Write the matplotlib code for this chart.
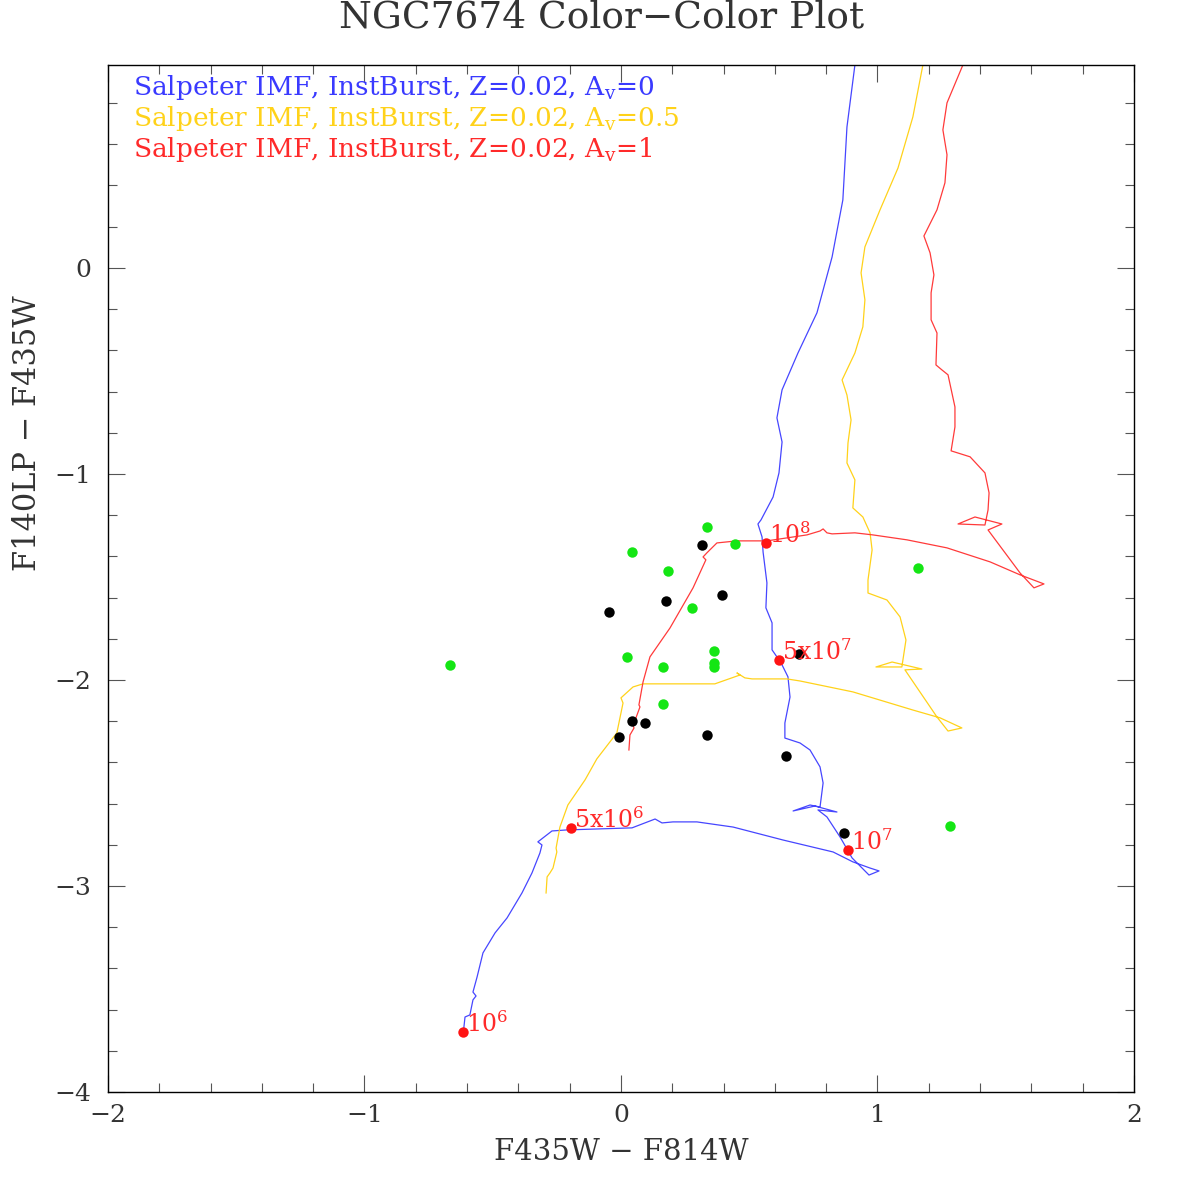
"NGC7674 colour-colour plot with Starburst99-like age tracks"

import numpy as np
import matplotlib
matplotlib.use("Agg")
import matplotlib.pyplot as plt
from matplotlib.ticker import MultipleLocator

plt.rcParams['font.family'] = ['DejaVu Serif', 'DejaVu Sans']
plt.rcParams['mathtext.fontset'] = 'dejavuserif'

# tracks: x = F435W - F814W, y = F140LP - F435W
blue_x = [-0.616, -0.608, -0.589, -0.577, -0.565, -0.577, -0.561, -0.538, -0.491, -0.444,
          -0.386, -0.347, -0.316, -0.308, -0.324, -0.269, -0.211, 0.043, 0.133, 0.160,
          0.203, 0.296, 0.437, 0.632, 0.827, 0.904, 0.971, 1.006, 0.967, 0.901,
          0.854, 0.803, 0.768, 0.842, 0.756, 0.671, 0.737, 0.776, 0.788, 0.776,
          0.737, 0.698, 0.639, 0.639, 0.659, 0.651, 0.624, 0.589, 0.589, 0.565,
          0.569, 0.554, 0.550, 0.534, 0.546, 0.593, 0.616, 0.628, 0.608, 0.628,
          0.690, 0.764, 0.823, 0.865, 0.881, 0.912]
blue_y = [-3.728, -3.636, -3.626, -3.553, -3.534, -3.515, -3.442, -3.325, -3.228, -3.155,
          -3.034, -2.937, -2.840, -2.801, -2.786, -2.733, -2.728, -2.718, -2.675, -2.694,
          -2.689, -2.689, -2.714, -2.777, -2.835, -2.883, -2.913, -2.927, -2.947, -2.864,
          -2.762, -2.665, -2.631, -2.641, -2.612, -2.636, -2.607, -2.617, -2.500, -2.422,
          -2.340, -2.306, -2.282, -2.209, -2.083, -1.985, -1.917, -1.854, -1.723, -1.650,
          -1.529, -1.379, -1.306, -1.243, -1.223, -1.112, -0.995, -0.845, -0.728, -0.592,
          -0.413, -0.218, 0.053, 0.330, 0.684, 0.985]

yellow_x = [-0.292, -0.288, -0.277, -0.265, -0.250, -0.253, -0.238, -0.207, -0.140, -0.094,
            -0.016, 0.008, 0.000, 0.047, 0.086, 0.366, 0.464, 0.452, 0.483, 0.511,
            0.647, 0.698, 0.904, 1.138, 1.244, 1.329, 1.275, 1.232, 1.107, 1.173,
            1.057, 0.994, 1.095, 1.111, 1.088, 1.037, 0.963, 0.963, 0.979, 0.971,
            0.943, 0.904, 0.912, 0.881, 0.885, 0.897, 0.881, 0.862, 0.912, 0.943,
            0.951, 0.936, 0.951, 1.010, 1.080, 1.138, 1.177]
yellow_y = [-3.034, -2.956, -2.937, -2.913, -2.835, -2.816, -2.714, -2.607, -2.485, -2.383,
            -2.257, -2.112, -2.087, -2.034, -2.019, -2.019, -1.976, -1.966, -1.990, -1.995,
            -1.995, -2.005, -2.058, -2.146, -2.184, -2.233, -2.248, -2.180, -1.951, -1.947,
            -1.913, -1.937, -1.937, -1.806, -1.694, -1.612, -1.578, -1.515, -1.369, -1.286,
            -1.209, -1.165, -1.029, -0.947, -0.850, -0.738, -0.617, -0.544, -0.413, -0.286,
            -0.155, -0.024, 0.102, 0.282, 0.485, 0.733, 0.985]

red_x = [0.031, 0.035, 0.051, 0.047, 0.074, 0.070, 0.086, 0.113, 0.191, 0.281,
         0.331, 0.320, 0.335, 0.374, 0.452, 0.569, 0.725, 0.776, 0.788, 0.803,
         0.823, 0.912, 0.982, 1.115, 1.271, 1.439, 1.556, 1.649, 1.610, 1.556,
         1.431, 1.485, 1.380, 1.314, 1.419, 1.431, 1.435, 1.419, 1.361, 1.287,
         1.302, 1.302, 1.275, 1.251, 1.228, 1.232, 1.209, 1.209, 1.220, 1.205,
         1.181, 1.232, 1.263, 1.271, 1.255, 1.271, 1.333]
red_y = [-2.340, -2.267, -2.233, -2.223, -2.131, -2.121, -2.010, -1.888, -1.748, -1.553,
         -1.417, -1.403, -1.383, -1.335, -1.325, -1.325, -1.296, -1.277, -1.267, -1.286,
         -1.291, -1.286, -1.296, -1.320, -1.359, -1.427, -1.490, -1.534, -1.553, -1.481,
         -1.272, -1.243, -1.209, -1.243, -1.248, -1.175, -1.092, -0.995, -0.917, -0.888,
         -0.772, -0.675, -0.519, -0.495, -0.471, -0.316, -0.252, -0.121, -0.034, 0.073,
         0.155, 0.282, 0.413, 0.549, 0.670, 0.801, 0.985]

# observed clusters
green_x = [0.335, 0.444, 0.043, 0.183, 0.277, 0.023, 0.164, 0.363, 0.363, 0.363,
           0.164, -0.667, 1.158, 1.283]
green_y = [-1.257, -1.340, -1.379, -1.471, -1.650, -1.888, -1.937, -1.859, -1.917, -1.937,
           -2.117, -1.927, -1.456, -2.709]
black_x = [0.316, 0.394, 0.175, -0.047, 0.043, 0.094, -0.008, 0.335, 0.643, 0.694, 0.869]
black_y = [-1.345, -1.587, -1.617, -1.670, -2.199, -2.209, -2.277, -2.267, -2.369, -1.874, -2.743]

# age markers on the tracks
age_x = [-0.616, -0.195, 0.885, 0.616, 0.565]
age_y = [-3.709, -2.718, -2.825, -1.903, -1.335]
age_lab = [r'$\mathregular{10^{6}}$', r'$\mathregular{5x10^{6}}$', r'$\mathregular{10^{7}}$',
           r'$\mathregular{5x10^{7}}$', r'$\mathregular{10^{8}}$']

legend_lines = [r'Salpeter IMF, InstBurst, Z=0.02, A$_\mathregular{v}$=0',
                r'Salpeter IMF, InstBurst, Z=0.02, A$_\mathregular{v}$=0.5',
                r'Salpeter IMF, InstBurst, Z=0.02, A$_\mathregular{v}$=1']
legend_colors = ['#3a3aff', '#ffd21a', '#ff2a2a']

fig = plt.figure(figsize=(11.81, 11.79), dpi=100)
ax = fig.add_axes([0.0914, 0.0738, 0.8688, 0.8711])

ax.plot(blue_x, blue_y, color='#4646ff', lw=0.9)
ax.plot(yellow_x, yellow_y, color='#ffd21a', lw=0.9)
ax.plot(red_x, red_y, color='#ff3a3a', lw=0.9)

ax.plot(black_x, black_y, 'o', color='black', ms=7.5, mec='none')
ax.plot(green_x, green_y, 'o', color='#14e614', ms=7.5, mec='none')
ax.plot(age_x, age_y, 'o', color='#ff1414', ms=7.5, mec='none')
for x, y, s in zip(age_x, age_y, age_lab):
    ax.annotate(s, (x, y), xytext=(2, 0), textcoords='offset points',
                ha='left', va='baseline', color='#ff2a2a', fontsize=17)

for i, (s, c) in enumerate(zip(legend_lines, legend_colors)):
    ax.text(0.0244, 0.9708 - 0.0302 * i, s, color=c, fontsize=19,
            transform=ax.transAxes, ha='left', va='baseline')

ax.set_xlim(-2, 2)
ax.set_ylim(-4, 0.985)
ax.xaxis.set_major_locator(MultipleLocator(1))
ax.xaxis.set_minor_locator(MultipleLocator(0.2))
ax.yaxis.set_major_locator(MultipleLocator(1))
ax.yaxis.set_minor_locator(MultipleLocator(0.2))
ax.tick_params(which='both', direction='in', top=True, right=True,
               color='#555555', width=0.8, labelsize=18, labelcolor='#333333')
ax.tick_params(which='major', length=12, pad=9)
ax.tick_params(which='minor', length=6.5)
ax.tick_params(axis='y', pad=12)
for sp in ax.spines.values():
    sp.set_linewidth(1.0)

fig.text(0.509, 0.977, 'NGC7674 Color\u2212Color Plot', ha='center', va='baseline',
         fontsize=27, color='#333333')
fig.text(0.5258, 0.0229, 'F435W \u2212 F814W', ha='center', va='center',
         fontsize=21, color='#333333')
fig.text(0.0237, 0.633, 'F140LP \u2212 F435W', ha='center', va='center',
         rotation=90, fontsize=22, color='#333333')

fig.savefig('out.png', dpi=100)
